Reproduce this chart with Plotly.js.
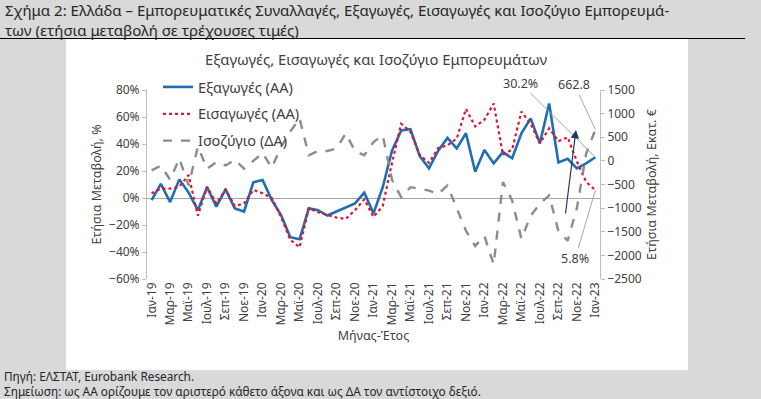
<!DOCTYPE html>
<html>
<head>
<meta charset="utf-8">
<script src="https://cdn.plot.ly/plotly-3.0.1.min.js"></script>
<style>
html,body{margin:0;padding:0;background:#fff;}
#chart{width:761px;height:399px;}
</style>
</head>
<body>
<div id="chart"></div>
<script>
const months = ["Ιαν-19","Φεβ-19","Μαρ-19","Απρ-19","Μαϊ-19","Ιουν-19","Ιουλ-19","Αυγ-19","Σεπ-19","Οκτ-19","Νοε-19","Δεκ-19",
"Ιαν-20","Φεβ-20","Μαρ-20","Απρ-20","Μαϊ-20","Ιουν-20","Ιουλ-20","Αυγ-20","Σεπ-20","Οκτ-20","Νοε-20","Δεκ-20",
"Ιαν-21","Φεβ-21","Μαρ-21","Απρ-21","Μαϊ-21","Ιουν-21","Ιουλ-21","Αυγ-21","Σεπ-21","Οκτ-21","Νοε-21","Δεκ-21",
"Ιαν-22","Φεβ-22","Μαρ-22","Απρ-22","Μαϊ-22","Ιουν-22","Ιουλ-22","Αυγ-22","Σεπ-22","Οκτ-22","Νοε-22","Δεκ-22","Ιαν-23"];

const tickLabels = ["Ιαν-19","Μαρ-19","Μαϊ-19","Ιουλ-19","Σεπ-19","Νοε-19","Ιαν-20","Μαρ-20","Μαϊ-20","Ιουλ-20","Σεπ-20","Νοε-20",
"Ιαν-21","Μαρ-21","Μαϊ-21","Ιουλ-21","Σεπ-21","Νοε-21","Ιαν-22","Μαρ-22","Μαϊ-22","Ιουλ-22","Σεπ-22","Νοε-22","Ιαν-23"];

const exportsPct = [-1.5,10.4,-3,13.8,4,-9,8,-6.4,6.4,-7.7,-10,11.6,
13.3,-1.5,-12.6,-29,-30.6,-7.6,-9,-13,-10,-7,-4,4,
-11.4,8,35,50,51,31,22,35,44.5,36.8,48,19.5,
35.5,25.6,34,29.4,48,59,40.5,70,26.4,29,22,25.7,30.2];

const importsPct = [3.5,7,7,8.5,17,-13,8.4,-4,6.4,-6,-4,6,
3.5,0,-14,-31,-36.5,-7.6,-10.5,-12.6,-14.5,-15.5,-9,-1,
-14,-6,26,55,49,32,26,37,39,44,66,53,
58,70,32,36,64,55,40.5,51.6,42,45,27,12,5.8];

const balanceMn = [-200,-100,-400,50,-520,300,-166,-25,-96,25,-166,10,
166,-145,300,620,900,117,209,209,260,580,209,117,
400,543,-400,-770,-557,-590,-628,-700,-520,-1000,-1480,-1800,
-1590,-2190,-450,-840,-1650,-1160,-910,-730,-1480,-1690,-1000,150,662.8];

const seriesNames = ["Εξαγωγές (ΑΑ)","Εισαγωγές (ΑΑ)","Ισοζύγιο (ΔΑ)"];

const FONT = "Noto Sans, sans-serif";
const TXT = "#404040";

const traces = [
  {x: months, y: exportsPct, name: seriesNames[0], type: "scatter", mode: "lines",
   line: {color: "#1f6db3", width: 2.6}, legendgroup: "a"},
  {x: months, y: importsPct, name: seriesNames[1], type: "scatter", mode: "lines",
   line: {color: "#e3122d", width: 2.2, dash: "dot"}, legendgroup: "b"},
  {x: months, y: balanceMn, name: seriesNames[2], type: "scatter", mode: "lines", yaxis: "y2",
   line: {color: "#8c8c8c", width: 2.4, dash: "dash"}, legendgroup: "c"}
];

// plot area pixel geometry
const L = 147, R = 600, T = 90, B = 279;
const W = 761, H = 399;
function px(x){ return (x - L) / (R - L); }
function py(y){ return (B - y) / (B - T); }

const layout = {
  width: W, height: H,
  margin: {l: L, r: W - R, t: T, b: H - B, pad: 0},
  paper_bgcolor: "#d9d9d9",
  plot_bgcolor: "rgba(0,0,0,0)",
  font: {family: FONT, color: TXT, size: 12},
  showlegend: true,
  legend: {x: px(158), y: py(71), xanchor: "left", yanchor: "top", bgcolor: "rgba(0,0,0,0)",
    font: {size: 14.5, color: TXT, family: FONT}, traceorder: "grouped", tracegroupgap: 5},
  xaxis: {type: "category", range: [-0.5, 48.5], tickmode: "array", tickvals: tickLabels, ticktext: tickLabels,
    tickangle: -90, showgrid: false, showline: false, zeroline: false, ticks: "",
    tickfont: {size: 12, color: TXT},
    title: {text: "Μήνας-Έτος", font: {size: 12.5, color: TXT}, standoff: 6}},
  yaxis: {range: [-60, 80], dtick: 20, ticksuffix: "%", showgrid: false, zeroline: true,
    zerolinecolor: "#a6a6a6", zerolinewidth: 1, showline: true, linecolor: "#bfbfbf", linewidth: 1,
    ticks: "outside", ticklen: 4, tickcolor: "#bfbfbf", tickfont: {size: 12, color: TXT},
    title: {text: "Ετήσια Μεταβολή, %", font: {size: 12.5, color: TXT}, standoff: 4}},
  yaxis2: {range: [-2500, 1500], dtick: 500, overlaying: "y", side: "right", showgrid: false, zeroline: false,
    showline: true, linecolor: "#bfbfbf", linewidth: 1, ticks: "outside", ticklen: 4, tickcolor: "#bfbfbf",
    tickfont: {size: 12, color: TXT},
    title: {text: "Ετήσια Μεταβολή, Εκατ. €", font: {size: 12.5, color: TXT}, standoff: 6}},
  shapes: [
    {type: "rect", xref: "paper", yref: "paper", x0: px(66), x1: px(688), y0: py(370), y1: py(39),
     fillcolor: "#ffffff", line: {width: 0}, layer: "below"},
    {type: "line", xref: "paper", yref: "paper", x0: px(0), x1: px(745), y0: py(38.5), y1: py(38.5),
     line: {color: "#000000", width: 1.2}}
  ],
  annotations: [
    {xref: "paper", yref: "paper", x: px(3), y: py(10.5), xanchor: "left", yanchor: "middle", showarrow: false, align: "left",
     text: "Σχήμα 2: Ελλάδα – Εμπορευματικές Συναλλαγές, Εξαγωγές, Εισαγωγές και Ισοζύγιο Εμπορευμά-",
     font: {size: 15, color: "#262626", family: FONT}},
    {xref: "paper", yref: "paper", x: px(3), y: py(30.5), xanchor: "left", yanchor: "middle", showarrow: false, align: "left",
     text: "των (ετήσια μεταβολή σε τρέχουσες τιμές)",
     font: {size: 15, color: "#262626", family: FONT}},
    {xref: "paper", yref: "paper", x: px(376), y: py(59), xanchor: "center", yanchor: "middle", showarrow: false,
     text: "Εξαγωγές, Εισαγωγές και Ισοζύγιο Εμπορευμάτων", font: {size: 14.8, color: TXT, family: FONT}},
    {xref: "paper", yref: "paper", x: px(2), y: py(375.5), xanchor: "left", yanchor: "middle", showarrow: false, align: "left",
     text: "Πηγή: ΕΛΣΤΑΤ, Eurobank Research.",
     font: {size: 11.8, color: "#262626", family: FONT}},
    {xref: "paper", yref: "paper", x: px(2), y: py(391.3), xanchor: "left", yanchor: "middle", showarrow: false, align: "left",
     text: "Σημείωση: ως ΑΑ ορίζουμε τον αριστερό κάθετο άξονα και ως ΔΑ τον αντίστοιχο δεξιό.",
     font: {size: 11.8, color: "#262626", family: FONT}},
    {x: 48, y: exportsPct[48], xref: "x", yref: "y", text: exportsPct[48].toFixed(1) + "%", showarrow: true,
     arrowhead: 0, arrowwidth: 1, arrowcolor: "#a6a6a6", ax: -75, ay: -74, font: {size: 12.5, color: TXT}},
    {x: 48, y: balanceMn[48], xref: "x", yref: "y2", text: balanceMn[48].toFixed(1), showarrow: true,
     arrowhead: 0, arrowwidth: 1, arrowcolor: "#a6a6a6", ax: -21, ay: -45, font: {size: 12.5, color: TXT}},
    {x: 48, y: importsPct[48], xref: "x", yref: "y", text: importsPct[48].toFixed(1) + "%", showarrow: true,
     arrowhead: 0, arrowwidth: 1, arrowcolor: "#a6a6a6", ax: -20, ay: 68, font: {size: 12.5, color: TXT}},
    {x: 45.9, y: 50.4, xref: "x", yref: "y", axref: "x", ayref: "y", ax: 44.75, ay: -12.6, text: "",
     showarrow: true, arrowhead: 2, arrowsize: 1.4, arrowwidth: 1.2, arrowcolor: "#1f3864"}
  ]
};

Plotly.newPlot("chart", traces, layout, {displayModeBar: false, staticPlot: true});
</script>
</body>
</html>
